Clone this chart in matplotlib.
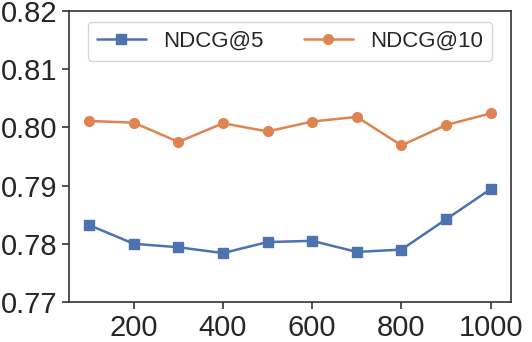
import matplotlib
matplotlib.use("Agg")
from matplotlib import pyplot as plt
import seaborn as sns

sns.set_style("ticks")
plt.rcParams['font.family'] = ['Liberation Sans', 'DejaVu Sans']

x = [100, 200, 300, 400, 500, 600, 700, 800, 900, 1000]
ndcg5 = [0.7832, 0.7800, 0.7794, 0.7784, 0.7803, 0.7805, 0.7786, 0.7790, 0.7842, 0.7894]
ndcg10 = [0.8011, 0.8008, 0.7975, 0.8007, 0.7993, 0.8010, 0.8018, 0.7969, 0.8004, 0.8024]

fig = plt.figure(figsize=(5.32, 3.42), dpi=100)
ax = fig.add_axes([0.130, 0.117, 0.830, 0.851])

ax.plot(x, ndcg5, color="#4C72B0", marker="s", markersize=7, linewidth=1.8, label="NDCG@5")
ax.plot(x, ndcg10, color="#DD8452", marker="o", markersize=7, linewidth=1.8, label="NDCG@10")

ax.set_ylim(0.77, 0.82)
ax.set_yticks([0.77, 0.78, 0.79, 0.80, 0.81, 0.82])
ax.set_xticks([200, 400, 600, 800, 1000])
ax.tick_params(labelsize=21, color="#333333", width=1.2, length=5)
for s in ax.spines.values():
    s.set_color("#333333")
    s.set_linewidth(1.2)

ax.legend(loc="upper center", ncol=2, fontsize=16, frameon=True, columnspacing=1.8,
          handlelength=2.2, handletextpad=0.8)

fig.savefig("out.png", dpi=100)
